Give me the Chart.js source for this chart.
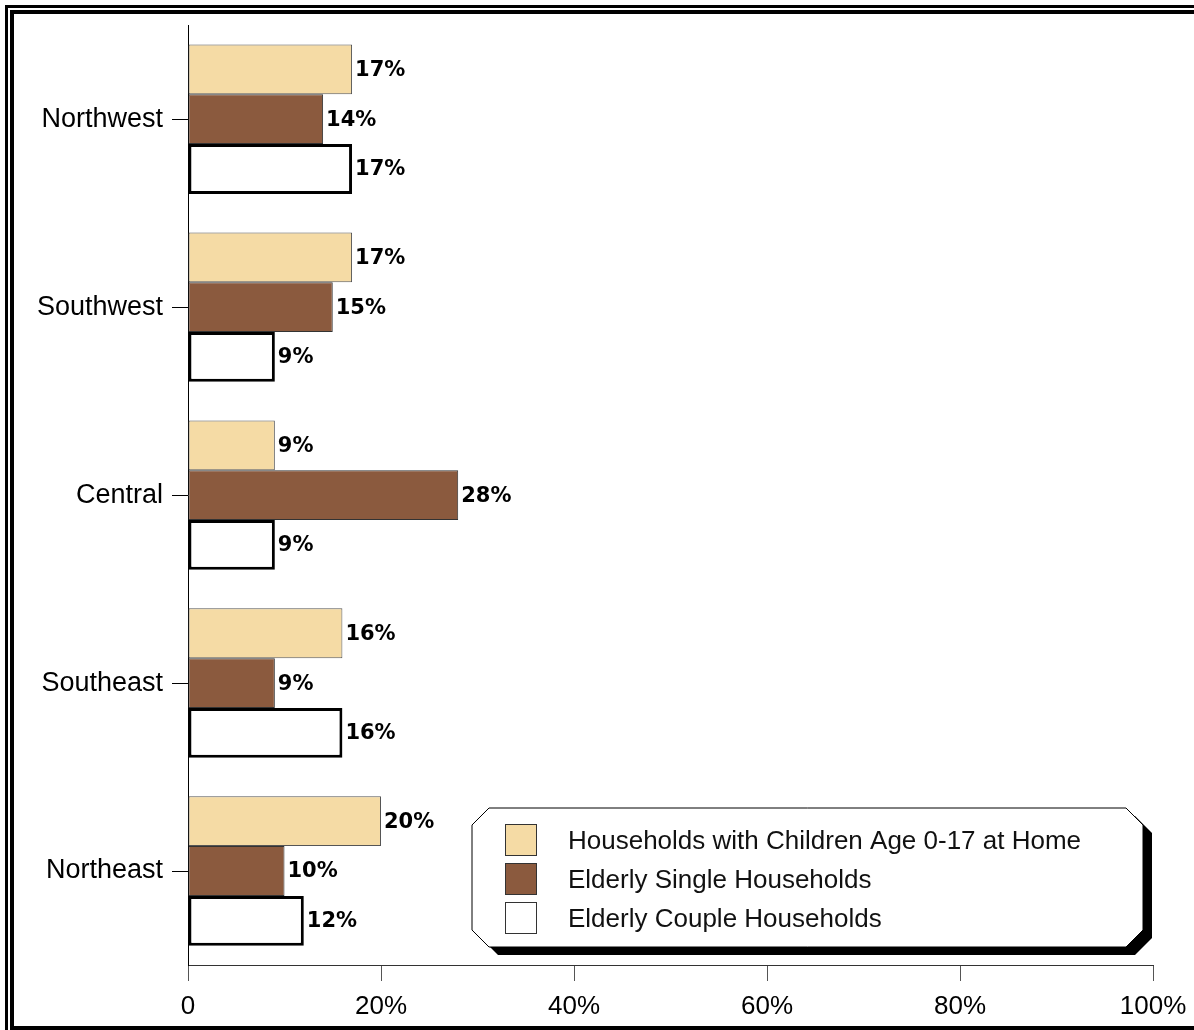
<!DOCTYPE html>
<html>
<head>
<meta charset="utf-8">
<title>Households by region</title>
<script src="https://cdn.jsdelivr.net/npm/chart.js@4.4.1/dist/chart.umd.min.js"></script>
<style>
  html, body { margin: 0; padding: 0; background: #fff; overflow: hidden; }
  canvas { display: block; }
</style>
</head>
<body>
<canvas id="regionChart" width="1194" height="1030"></canvas>
<script>
// regions, top to bottom
var regions = ["Northwest", "Southwest", "Central", "Southeast", "Northeast"];

var seriesNames = [
  "Households with Children Age 0-17 at Home",
  "Elderly Single Households",
  "Elderly Couple Households"
];

// percent of households in each region
var withChildren = [17, 17, 9, 16, 20];
var elderlySingle = [14, 15, 28, 9, 10];
var elderlyCouple = [17, 9, 9, 16, 12];

var xTicks = [0, 20, 40, 60, 80, 100];

var labelFont = "'Liberation Sans', Arial, sans-serif";

// white page + double frame around the whole thing
var framePlugin = {
  id: "frame",
  beforeDraw: function(chart) {
    var ctx = chart.ctx;
    ctx.save();
    ctx.fillStyle = "#fff";
    ctx.fillRect(0, 0, chart.width, chart.height);
    ctx.restore();
  },
  afterDraw: function(chart) {
    var ctx = chart.ctx;
    var w = chart.width, h = chart.height;
    ctx.save();
    ctx.fillStyle = "#000";
    // outer line
    ctx.fillRect(5, 5, w - 5, 3);
    ctx.fillRect(5, 5, 3, h - 5);
    // inner line
    ctx.fillRect(10, 10, w - 10, 4);
    ctx.fillRect(10, 10, 4, h - 10);
    ctx.fillRect(10, h - 4, w - 10, 4);
    ctx.restore();
  }
};

// value printed just past the end of every bar
var valueLabelPlugin = {
  id: "valueLabels",
  afterDatasetsDraw: function(chart) {
    var ctx = chart.ctx;
    ctx.save();
    ctx.font = "bold 21px 'DejaVu Sans', sans-serif";
    ctx.fillStyle = "#000";
    ctx.textAlign = "left";
    ctx.textBaseline = "middle";
    chart.data.datasets.forEach(function(ds, i) {
      chart.getDatasetMeta(i).data.forEach(function(bar, j) {
        ctx.fillText(ds.data[j] + "%", bar.x + 3, bar.y + 1);
      });
    });
    ctx.restore();
  }
};

// legend in a clipped-corner box with a black drop shadow
var boxLegendPlugin = {
  id: "boxLegend",
  afterDraw: function(chart) {
    var ctx = chart.ctx;
    var x0 = 472, y0 = 808, x1 = 1143, y1 = 947, c = 17;
    function octagon(dx, dy) {
      ctx.beginPath();
      ctx.moveTo(x0 + c + dx, y0 + dy);
      ctx.lineTo(x1 - c + dx, y0 + dy);
      ctx.lineTo(x1 + dx, y0 + c + dy);
      ctx.lineTo(x1 + dx, y1 - c + dy);
      ctx.lineTo(x1 - c + dx, y1 + dy);
      ctx.lineTo(x0 + c + dx, y1 + dy);
      ctx.lineTo(x0 + dx, y1 - c + dy);
      ctx.lineTo(x0 + dx, y0 + c + dy);
      ctx.closePath();
    }
    ctx.save();
    octagon(9, 8);
    ctx.fillStyle = "#000";
    ctx.fill();
    octagon(0, 0);
    ctx.fillStyle = "#fff";
    ctx.fill();
    ctx.lineWidth = 1;
    ctx.strokeStyle = "#000";
    ctx.stroke();

    ctx.font = "26px " + labelFont;
    ctx.textAlign = "left";
    ctx.textBaseline = "middle";
    chart.data.datasets.forEach(function(ds, i) {
      var top = 824 + i * 39;
      ctx.fillStyle = ds.backgroundColor;
      ctx.fillRect(505, top, 32, 32);
      ctx.lineWidth = 1;
      ctx.strokeStyle = "#333";
      ctx.strokeRect(505.5, top + 0.5, 31, 31);
      ctx.fillStyle = "#111";
      ctx.fillText(ds.label, 568, top + 18);
    });
    ctx.restore();
  }
};

new Chart(document.getElementById("regionChart"), {
  type: "bar",
  data: {
    labels: regions,
    datasets: [
      {
        label: seriesNames[0],
        data: withChildren,
        backgroundColor: "#f5dba5",
        borderColor: "#555",
        borderWidth: 1
      },
      {
        label: seriesNames[1],
        data: elderlySingle,
        backgroundColor: "#8b5a3e",
        borderColor: "#333",
        borderWidth: 1
      },
      {
        label: seriesNames[2],
        data: elderlyCouple,
        backgroundColor: "#ffffff",
        borderColor: "#000",
        borderWidth: 3
      }
    ]
  },
  options: {
    indexAxis: "y",
    responsive: false,
    animation: false,
    devicePixelRatio: 1,
    layout: { padding: { top: 20, right: 41, bottom: 0, left: 0 } },
    datasets: {
      bar: {
        categoryPercentage: 0.795,
        barPercentage: 1.0,
        borderSkipped: false
      }
    },
    scales: {
      x: {
        min: 0,
        max: 100,
        afterBuildTicks: function(scale) {
          scale.ticks = xTicks.map(function(v) { return { value: v }; });
        },
        afterFit: function(scale) {
          scale.height = 65;
          // the "100%" label fits inside the right padding already
          scale.paddingRight = 0;
          scale.paddingLeft = 0;
        },
        grid: { drawOnChartArea: false, drawTicks: true, tickLength: 16, color: "#555" },
        border: { color: "#333", width: 1 },
        ticks: {
          padding: 10,
          color: "#000",
          font: { family: labelFont, size: 26 },
          maxRotation: 0,
          callback: function(v) { return v === 0 ? "0" : v + "%"; }
        }
      },
      y: {
        afterFit: function(scale) { scale.width = 188; },
        grid: { offset: false, drawOnChartArea: false, drawTicks: true, tickLength: 16, color: "#000" },
        border: { color: "#000", width: 1 },
        ticks: {
          padding: 9,
          color: "#000",
          font: { family: labelFont, size: 27 }
        }
      }
    },
    plugins: {
      legend: { display: false },
      tooltip: { enabled: false }
    }
  },
  plugins: [framePlugin, valueLabelPlugin, boxLegendPlugin]
});
</script>
</body>
</html>
